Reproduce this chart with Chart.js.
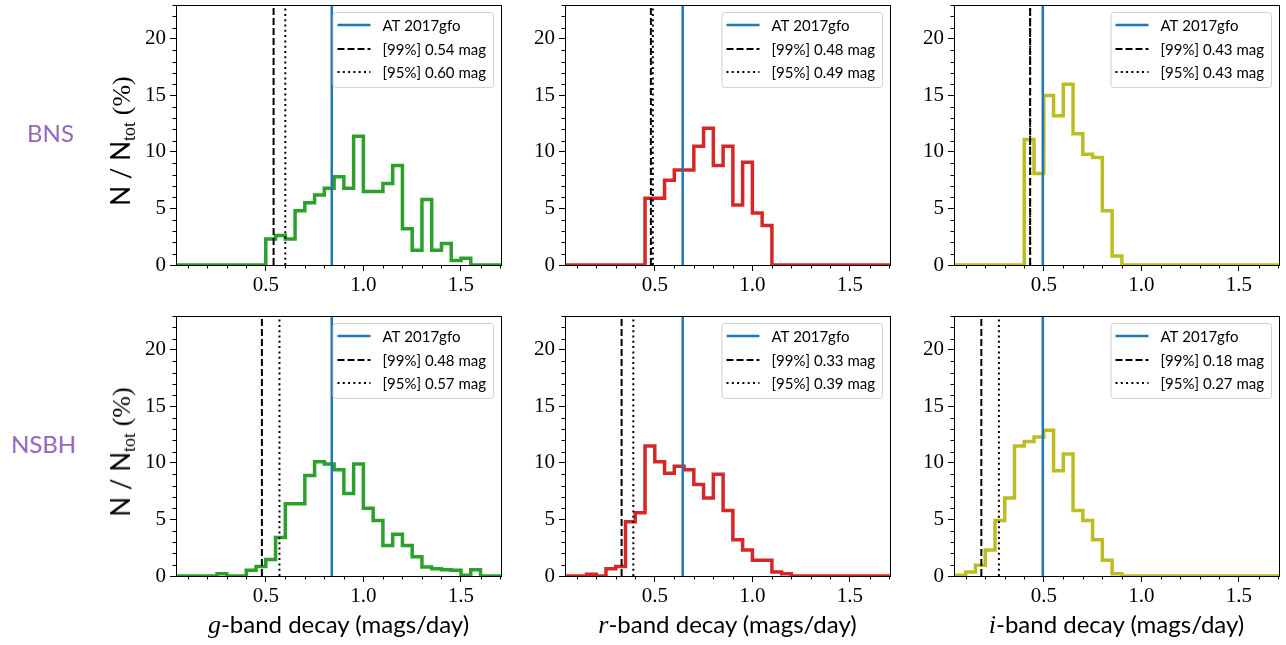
<!DOCTYPE html>
<html>
<head>
<meta charset="utf-8">
<script src="https://cdn.jsdelivr.net/npm/chart.js@4.4.1/dist/chart.umd.min.js"></script>
<style>
  body { margin: 0; background: #fff; }
  #page { position: relative; width: 1286px; height: 645px; overflow: hidden; background: #fff; }
  .panel { position: absolute; }
  .xtitle { position: absolute; width: 325px; height: 24px; font-family: Lato, sans-serif; font-size: 24px; line-height: 24px; text-align: center; white-space: nowrap; color: #000; }
  .xtitle i { font-family: 'Liberation Serif', serif; font-size: 26px; }
  .ytitle { position: absolute; font-family: Lato, sans-serif; font-size: 26px; line-height: 26px; white-space: nowrap; color: #000;
            transform: translate(-50%, -50%) rotate(-90deg); }
  .ytitle .sv { font-family: 'Liberation Serif', serif; }
  .ytitle sub { font-family: 'Liberation Serif', serif; font-size: 18px; vertical-align: -5px; line-height: 0; }
  .rowlab { position: absolute; font-family: Lato, sans-serif; font-size: 24px; line-height: 24px; color: #9467bd;
            transform: translate(-50%, -50%); white-space: nowrap; }
</style>
</head>
<body>
<div id="page"></div>
<script>
// histogram bin edges (mags/day)
const binEdges = [0.00, 0.05, 0.10, 0.15, 0.20, 0.25, 0.30, 0.35, 0.40, 0.45,
                  0.50, 0.55, 0.60, 0.65, 0.70, 0.75, 0.80, 0.85, 0.90, 0.95,
                  1.00, 1.05, 1.10, 1.15, 1.20, 1.25, 1.30, 1.35, 1.40, 1.45,
                  1.50, 1.55, 1.60, 1.65, 1.70, 1.75];

// percentage of simulations per bin
const gBNS  = [0, 0, 0, 0, 0, 0, 0, 0, 0, 0,
               2.3, 2.6, 2.3, 4.8, 5.5, 6.2, 6.8, 7.8, 6.8, 11.4,
               6.5, 6.5, 7.2, 8.8, 3.2, 1.3, 5.8, 1.3, 1.9, 0.4,
               0.6, 0, 0, 0, 0];
const rBNS  = [0, 0, 0, 0, 0, 0, 0, 0, 0, 5.9,
               5.9, 7.5, 8.4, 8.4, 10.5, 12.1, 8.8, 10.5, 5.3, 9.1,
               4.6, 3.5, 0, 0, 0, 0, 0, 0, 0, 0,
               0, 0, 0, 0, 0];
const iBNS  = [0, 0, 0, 0, 0, 0, 0, 0, 11.1, 8.1,
               15.0, 13.2, 16.0, 11.6, 9.8, 9.5, 4.8, 0.8, 0, 0,
               0, 0, 0, 0, 0, 0, 0, 0, 0, 0,
               0, 0, 0, 0, 0];
const gNSBH = [0, 0, 0, 0, 0, 0.2, 0, 0, 0.5, 0.85,
               1.45, 3.4, 6.4, 6.4, 8.9, 10.1, 9.9, 9.4, 7.3, 9.9,
               6.0, 4.9, 2.7, 3.7, 2.7, 1.7, 0.8, 0.65, 0.55, 0.5,
               0.06, 0.55, 0, 0, 0];
const rNSBH = [0, 0, 0, 0.15, 0, 0.65, 0.85, 4.8, 5.6, 11.5,
               10.1, 9.1, 9.7, 9.4, 8.1, 6.9, 9.0, 5.8, 3.2, 2.3,
               1.4, 1.4, 0.35, 0.2, 0, 0, 0, 0, 0, 0,
               0, 0, 0, 0, 0];
const iNSBH = [0, 0.06, 0.35, 0.95, 2.3, 4.9, 6.9, 11.5, 11.9, 12.3,
               12.9, 9.3, 10.8, 5.8, 4.9, 3.2, 1.4, 0.2, 0, 0,
               0, 0, 0, 0, 0, 0, 0, 0, 0, 0,
               0, 0, 0, 0, 0];

// decay rate of AT 2017gfo per band (g, r, i)
const bands = ['g', 'r', 'i'];
const gfoDecay = [0.838, 0.643, 0.495];
// 99% and 95% thresholds
const cut99BNS  = [0.54, 0.48, 0.43];
const cut95BNS  = [0.60, 0.49, 0.43];
const cut99NSBH = [0.48, 0.33, 0.18];
const cut95NSBH = [0.57, 0.39, 0.27];

const rowNames = ['BNS', 'NSBH'];
const xTicks = [0.5, 1.0, 1.5];
const yTicks = [0, 5, 10, 15, 20];

const bandColors = ['#2ca02c', '#d62728', '#bcbd22'];
const blue = '#1f77b4';

// plot area layout
const colLeft = [176, 565, 954];
const rowTop = [5, 316];
const plotW = 325, plotH = 260;
const padL = 70, padT = 20, padR = 20, padB = 45;

const page = document.getElementById('page');

const frameAndLegend = {
  id: 'frameAndLegend',
  afterDraw(chart) {
    const ctx = chart.ctx;
    const a = chart.chartArea;
    const x = chart.scales.x, y = chart.scales.y;
    ctx.save();
    // box
    ctx.strokeStyle = '#000';
    ctx.lineWidth = 1;
    ctx.strokeRect(Math.round(a.left) + 0.5, Math.round(a.top) + 0.5, Math.round(a.width), Math.round(a.height));
    // minor ticks
    ctx.beginPath();
    for (let k = 1; k <= 17; k++) {
      if (k % 5 === 0) continue;
      const px = Math.round(x.getPixelForValue(k / 10)) + 0.5;
      if (px < a.left || px > a.right) continue;
      ctx.moveTo(px, a.bottom);
      ctx.lineTo(px, a.bottom + 3.5);
    }
    for (let k = 1; k <= 23; k++) {
      if (k % 5 === 0) continue;
      const py = Math.round(y.getPixelForValue(k)) + 0.5;
      ctx.moveTo(a.left, py);
      ctx.lineTo(a.left - 3.5, py);
    }
    ctx.stroke();

    // legend
    const items = chart.data.datasets.filter(d => d.inLegend);
    ctx.font = '15px Lato, sans-serif';
    let maxW = 0;
    items.forEach(d => { maxW = Math.max(maxW, ctx.measureText(d.label).width); });
    const bw = 50 + maxW + 7, bh = 75;
    const bx = a.right - 8 - bw, by = a.top + 7;
    ctx.beginPath();
    if (ctx.roundRect) ctx.roundRect(bx + 0.5, by + 0.5, bw, bh, 3); else ctx.rect(bx + 0.5, by + 0.5, bw, bh);
    ctx.fillStyle = 'rgba(255,255,255,0.8)';
    ctx.fill();
    ctx.strokeStyle = 'rgba(204,204,204,0.9)';
    ctx.lineWidth = 1;
    ctx.stroke();
    const rowsY = [20, 44, 67];
    items.forEach((d, i) => {
      const cy = a.top + rowsY[i];
      ctx.beginPath();
      ctx.setLineDash(d.borderDash || []);
      ctx.strokeStyle = d.borderColor;
      ctx.lineWidth = d.borderWidth;
      ctx.moveTo(bx + 5, cy);
      ctx.lineTo(bx + 38, cy);
      ctx.stroke();
      ctx.setLineDash([]);
      ctx.fillStyle = '#000';
      ctx.textBaseline = 'middle';
      ctx.textAlign = 'left';
      ctx.fillText(d.label, bx + 50, cy + 1);
    });
    ctx.restore();
  }
};

function vline(value, label, color, width, dash) {
  return {
    label: label,
    data: [{x: value, y: 0}, {x: value, y: 23}],
    borderColor: color,
    borderWidth: width,
    borderDash: dash,
    pointRadius: 0,
    inLegend: true
  };
}

function makePanel(row, col, values, cut99, cut95) {
  const left = colLeft[col], top = rowTop[row];
  const W = plotW + padL + padR, H = plotH + padT + padB;
  const wrap = document.createElement('div');
  wrap.className = 'panel';
  wrap.style.left = (left - padL) + 'px';
  wrap.style.top = (top - padT) + 'px';
  wrap.style.width = W + 'px';
  wrap.style.height = H + 'px';
  const canvas = document.createElement('canvas');
  canvas.width = W; canvas.height = H;
  canvas.style.width = W + 'px'; canvas.style.height = H + 'px';
  wrap.appendChild(canvas);
  page.appendChild(wrap);

  const hist = binEdges.map((e, i) => ({x: e, y: i < values.length ? values[i] : 0}));

  new Chart(canvas, {
    type: 'line',
    data: {
      datasets: [
        vline(gfoDecay[col], 'AT 2017gfo', blue, 2.5, []),
        vline(cut99, '[99%] ' + cut99.toFixed(2) + ' mag', '#000', 2, [7, 3]),
        vline(cut95, '[95%] ' + cut95.toFixed(2) + ' mag', '#000', 2, [2, 3.3]),
        {
          label: bands[col] + '-band ' + rowNames[row],
          data: hist,
          stepped: 'before',
          borderColor: bandColors[col],
          borderWidth: 3.5,
          pointRadius: 0,
          fill: false
        }
      ]
    },
    options: {
      responsive: false,
      animation: false,
      events: [],
      layout: { padding: { left: 0, top: padT, right: padR, bottom: 0 } },
      plugins: { legend: { display: false }, tooltip: { enabled: false } },
      scales: {
        x: {
          type: 'linear',
          min: 0.04,
          max: 1.705,
          afterBuildTicks: s => { s.ticks = xTicks.map(v => ({value: v})); },
          afterFit: s => { s.height = padB; },
          ticks: {
            color: '#000',
            padding: 2,
            maxRotation: 0,
            font: { family: 'Liberation Serif', size: 21 },
            callback: v => v.toFixed(1)
          },
          grid: { drawOnChartArea: false, color: '#000', tickLength: 6, tickWidth: 1 },
          border: { display: true, color: '#000', width: 1 }
        },
        y: {
          min: 0,
          max: 23,
          afterBuildTicks: s => { s.ticks = yTicks.map(v => ({value: v})); },
          afterFit: s => { s.width = padL; },
          ticks: {
            color: '#000',
            padding: 4,
            font: { family: 'Liberation Serif', size: 21 },
            callback: v => String(v)
          },
          grid: { drawOnChartArea: false, color: '#000', tickLength: 6, tickWidth: 1 },
          border: { display: true, color: '#000', width: 1 }
        }
      }
    },
    plugins: [frameAndLegend]
  });

  if (row === 1) {
    const xt = document.createElement('div');
    xt.className = 'xtitle';
    xt.style.left = left + 'px';
    xt.style.top = '612px';
    xt.innerHTML = '<i>' + bands[col] + '</i>-band decay (mags/day)';
    page.appendChild(xt);
  }
  if (col === 0) {
    const yt = document.createElement('div');
    yt.className = 'ytitle';
    yt.style.left = '121px';
    yt.style.top = (top + 136) + 'px';
    yt.innerHTML = 'N / N<sub>tot</sub> <span class="sv">(%)</span>';
    page.appendChild(yt);

    const rl = document.createElement('div');
    rl.className = 'rowlab';
    rl.style.left = (row === 0 ? 50.5 : 43.5) + 'px';
    rl.style.top = (top + 128) + 'px';
    rl.textContent = rowNames[row];
    page.appendChild(rl);
  }
}

makePanel(0, 0, gBNS, cut99BNS[0], cut95BNS[0]);
makePanel(0, 1, rBNS, cut99BNS[1], cut95BNS[1]);
makePanel(0, 2, iBNS, cut99BNS[2], cut95BNS[2]);
makePanel(1, 0, gNSBH, cut99NSBH[0], cut95NSBH[0]);
makePanel(1, 1, rNSBH, cut99NSBH[1], cut95NSBH[1]);
makePanel(1, 2, iNSBH, cut99NSBH[2], cut95NSBH[2]);
</script>
</body>
</html>
